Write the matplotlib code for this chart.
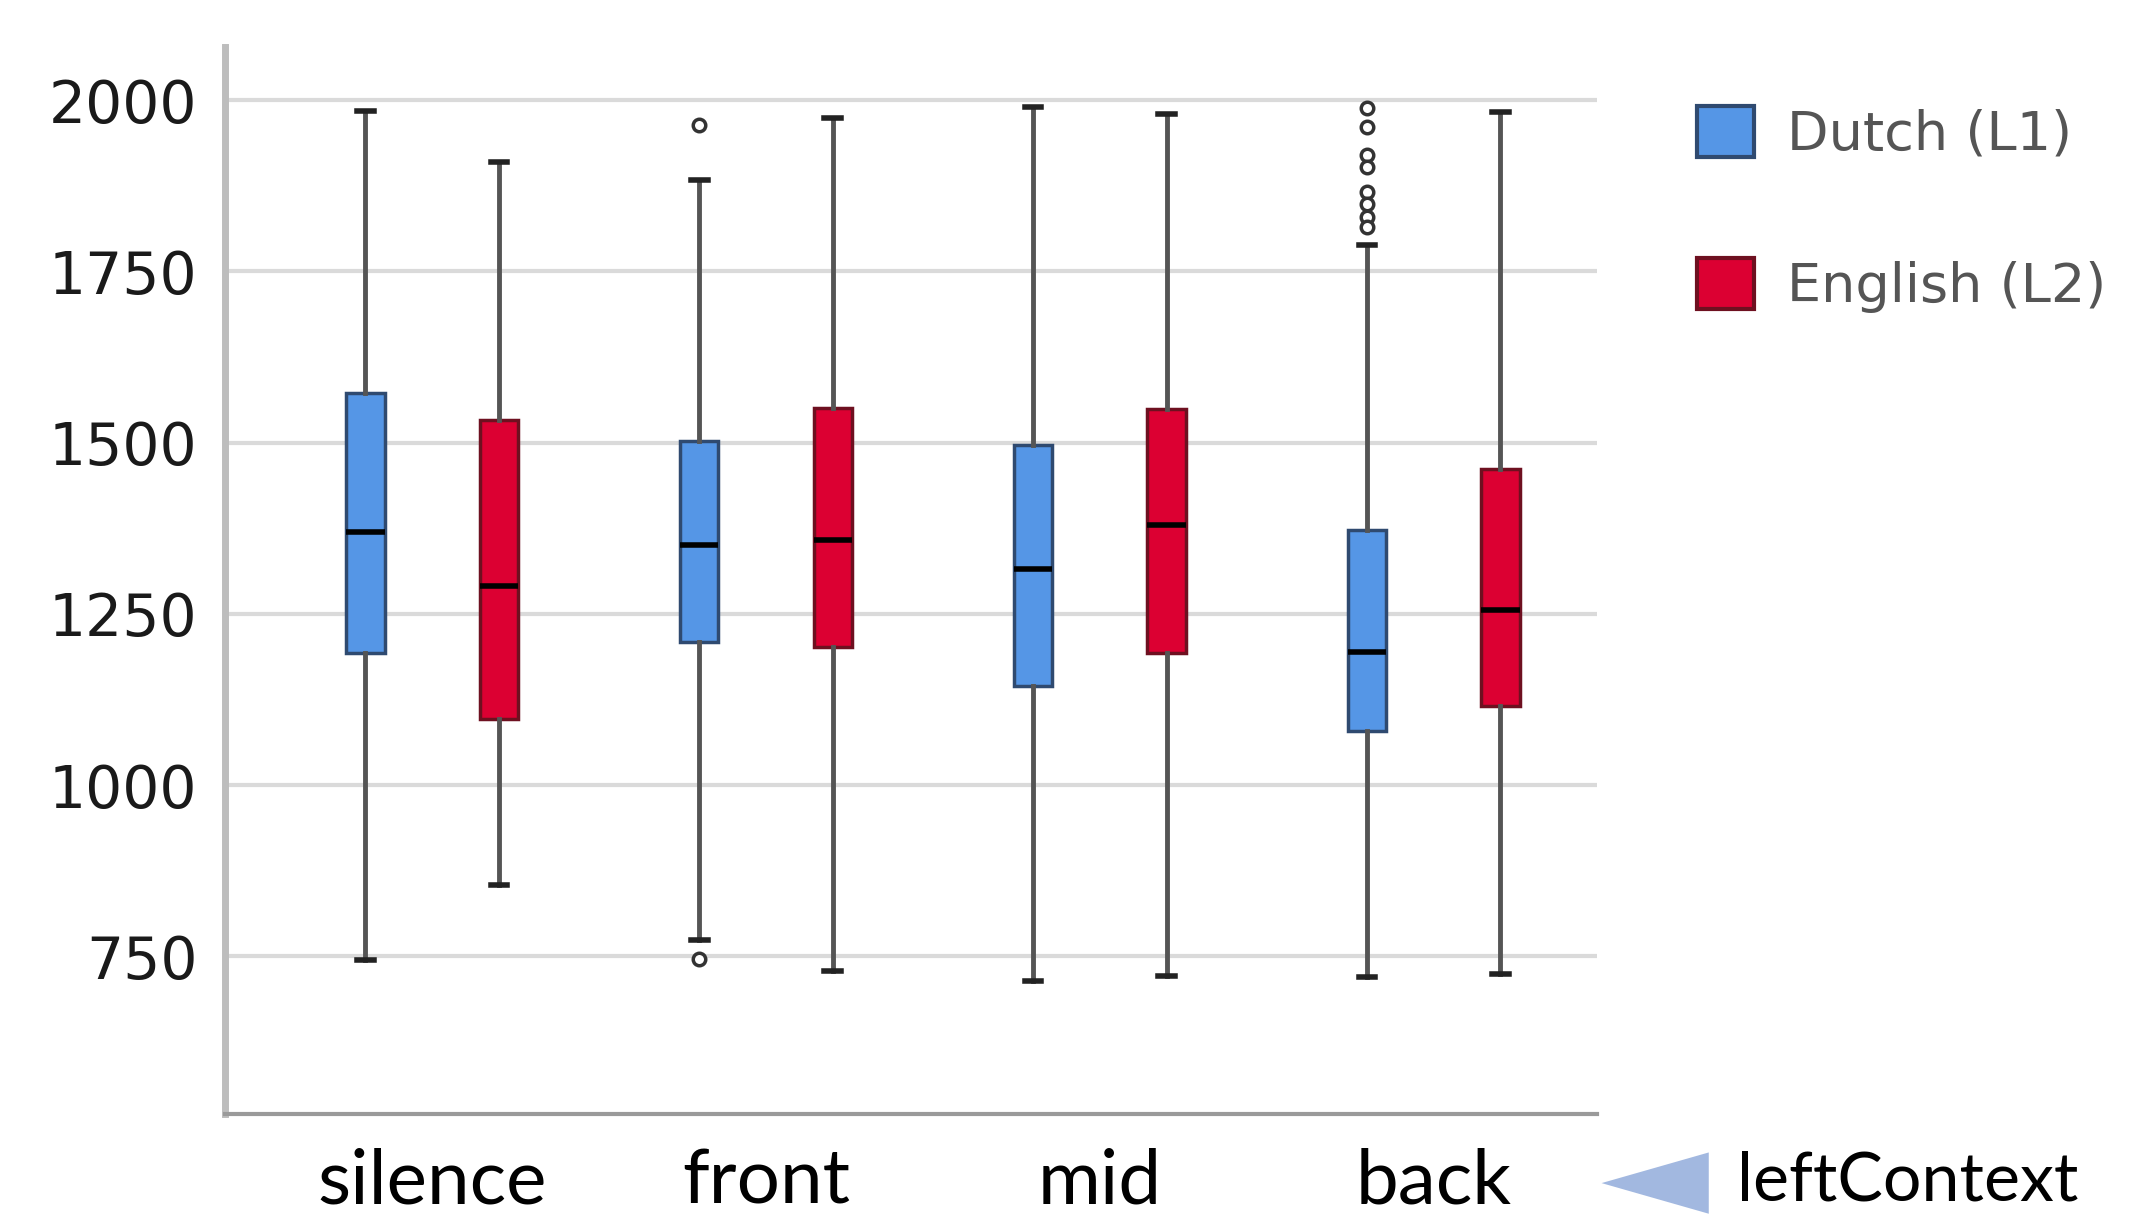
import matplotlib
matplotlib.use("Agg")
import matplotlib.pyplot as plt
from matplotlib.patches import Patch, Polygon

# ---- data ----
categories = ["silence", "front", "mid", "back"]
series_names = ["Dutch (L1)", "English (L2)"]

dutch_whislo = [744, 774, 714, 720]
dutch_q1     = [1193, 1209, 1145, 1079]
dutch_med    = [1370, 1350, 1316, 1195]
dutch_q3     = [1573, 1502, 1496, 1372]
dutch_whishi = [1984, 1884, 1990, 1788]
dutch_fliers = [[], [1964, 746], [], [1988, 1961, 1920, 1902, 1866, 1849, 1829, 1815]]

english_whislo = [854, 728, 722, 724]
english_q1     = [1097, 1201, 1193, 1115]
english_med    = [1290, 1358, 1380, 1256]
english_q3     = [1533, 1551, 1549, 1462]
english_whishi = [1910, 1974, 1980, 1982]
english_fliers = [[], [], [], []]

yticks = [750, 1000, 1250, 1500, 1750, 2000]
axis_title = "leftContext"

colors = ["#5596E6", "#DC0032"]
edge_colors = ["#2f4a70", "#6e1020"]

fig = plt.figure(figsize=(21.44, 12.26), dpi=100)
ax = fig.add_axes([0.105, 0.0914, 0.640, 0.870])

def stats(lo, q1, med, q3, hi, fl):
    return [dict(whislo=a, q1=b, med=c, q3=d, whishi=e, fliers=f)
            for a, b, c, d, e, f in zip(lo, q1, med, q3, hi, fl)]

groups = [
    stats(dutch_whislo, dutch_q1, dutch_med, dutch_q3, dutch_whishi, dutch_fliers),
    stats(english_whislo, english_q1, english_med, english_q3, english_whishi, english_fliers),
]
offsets = [-0.2, 0.2]
for k, st in enumerate(groups):
    pos = [i + offsets[k] for i in range(len(categories))]
    ax.bxp(st, positions=pos, widths=0.115, patch_artist=True, showfliers=True,
           boxprops=dict(facecolor=colors[k], edgecolor=edge_colors[k], linewidth=2.5),
           medianprops=dict(color="black", linewidth=4),
           whiskerprops=dict(color="#555555", linewidth=3.5),
           capprops=dict(color="#222222", linewidth=4),
           flierprops=dict(marker="o", markersize=9, markerfacecolor="white",
                           markeredgecolor="#333333", markeredgewidth=2.5),
           capwidths=0.05, zorder=3)

ax.set_xlim(-0.62, 3.49)
ax.set_ylim(520, 2077)
ax.set_yticks(yticks)
ax.set_yticklabels([str(v) for v in yticks], fontsize=42, color="#1a1a1a",
                   family="DejaVu Sans")
ax.set_xticks(range(len(categories)))
ax.set_xticklabels(categories, fontsize=55, family="Lato", color="black")
ax.tick_params(axis="both", length=0)
ax.tick_params(axis="y", pad=20)
ax.tick_params(axis="x", pad=24)
ax.yaxis.grid(True, color="#dadada", linewidth=3, zorder=0)
ax.set_axisbelow(True)
for s in ["top", "right"]:
    ax.spines[s].set_visible(False)
ax.spines["left"].set_color("#bdbdbd")
ax.spines["left"].set_linewidth(5)
ax.spines["bottom"].set_color("#9a9a9a")
ax.spines["bottom"].set_linewidth(3)

handles = [Patch(facecolor=colors[k], edgecolor=edge_colors[k], linewidth=3,
                 label=series_names[k]) for k in range(2)]
leg = fig.legend(handles=handles, loc="upper left", bbox_to_anchor=(0.769, 0.953),
                 frameon=False, fontsize=39, handlelength=1.05, handleheight=1.05,
                 handletextpad=0.6, labelspacing=1.8, labelcolor="#555555")

# axis title with left-pointing triangle
tri = Polygon([[0.747, 0.035], [0.797, 0.060], [0.797, 0.010]], closed=True,
              transform=fig.transFigure, facecolor="#A2B8E0", edgecolor="none")
fig.patches.append(tri)
fig.text(0.810, 0.036, axis_title, fontsize=49, family="Lato", color="black",
         va="center", ha="left")

fig.savefig("out.png", dpi=100)
